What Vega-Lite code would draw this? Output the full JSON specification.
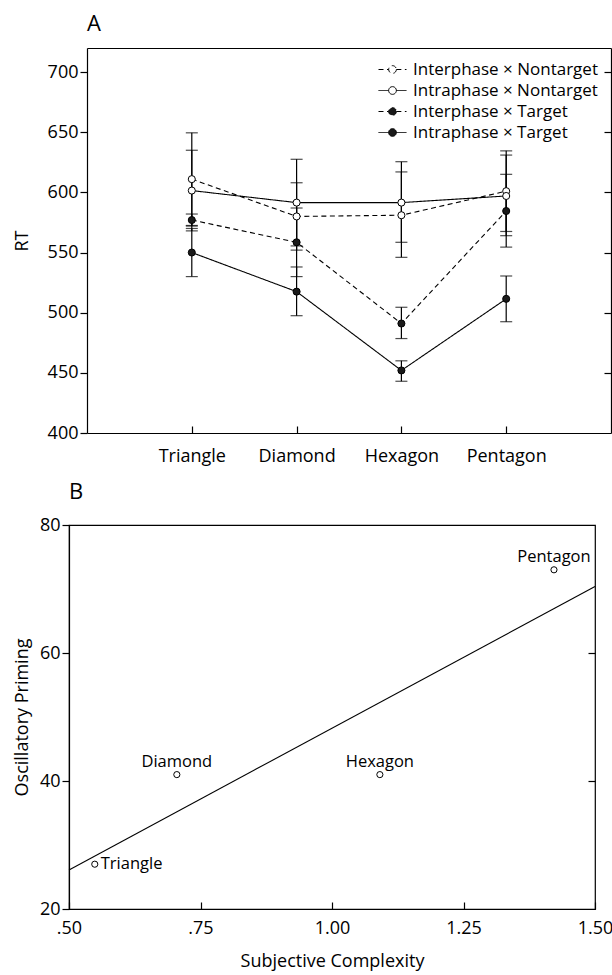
{
  "$schema": "https://vega.github.io/schema/vega-lite/v6.json",
  "padding": {"left": 12, "top": 13, "right": 2, "bottom": 2},
  "columns": 1,
  "spacing": 15,
  "resolve": {"legend": {"fill": "independent", "strokeDash": "independent"}},
  "datasets": {
    "rt": [
      {"shape": "Triangle", "series": "Interphase × Nontarget", "rt": 611, "lo": 572.5, "hi": 649.5},
      {"shape": "Triangle", "series": "Intraphase × Nontarget", "rt": 601.5, "lo": 568, "hi": 635},
      {"shape": "Triangle", "series": "Interphase × Target", "rt": 577, "lo": 572, "hi": 582},
      {"shape": "Triangle", "series": "Intraphase × Target", "rt": 550, "lo": 530, "hi": 570},
      {"shape": "Diamond", "series": "Interphase × Nontarget", "rt": 580, "lo": 552, "hi": 608},
      {"shape": "Diamond", "series": "Intraphase × Nontarget", "rt": 591.5, "lo": 555.5, "hi": 627.5},
      {"shape": "Diamond", "series": "Interphase × Target", "rt": 558.5, "lo": 530, "hi": 587},
      {"shape": "Diamond", "series": "Intraphase × Target", "rt": 517.5, "lo": 497.5, "hi": 538},
      {"shape": "Hexagon", "series": "Interphase × Nontarget", "rt": 581, "lo": 546, "hi": 617},
      {"shape": "Hexagon", "series": "Intraphase × Nontarget", "rt": 591.5, "lo": 558.5, "hi": 625.5},
      {"shape": "Hexagon", "series": "Interphase × Target", "rt": 491, "lo": 478.5, "hi": 504.5},
      {"shape": "Hexagon", "series": "Intraphase × Target", "rt": 452, "lo": 443, "hi": 460},
      {"shape": "Pentagon", "series": "Interphase × Nontarget", "rt": 601, "lo": 567.5, "hi": 634.5},
      {"shape": "Pentagon", "series": "Intraphase × Nontarget", "rt": 597, "lo": 564, "hi": 631},
      {"shape": "Pentagon", "series": "Interphase × Target", "rt": 584.5, "lo": 554.5, "hi": 615},
      {"shape": "Pentagon", "series": "Intraphase × Target", "rt": 511.5, "lo": 492.5, "hi": 530.5}
    ],
    "prime": [
      {"shape": "Triangle", "complexity": 0.549, "priming": 27},
      {"shape": "Diamond", "complexity": 0.705, "priming": 41},
      {"shape": "Hexagon", "complexity": 1.091, "priming": 41},
      {"shape": "Pentagon", "complexity": 1.422, "priming": 73}
    ],
    "fit": [
      {"complexity": 0.5, "priming": 26.1},
      {"complexity": 1.5, "priming": 70.4}
    ]
  },
  "concat": [
    {
      "width": 542,
      "height": 385,
      "view": {"stroke": null},
      "title": {"text": "A", "anchor": "start", "frame": "group", "dx": 18, "fontSize": 22, "font": "Open Sans", "fontWeight": "normal", "offset": 12, "color": "black"},
      "data": {"name": "rt"},
      "layer": [
        {
          "mark": {"type": "rule", "color": "black", "strokeWidth": 1.2},
          "encoding": {
            "x": {"field": "shape", "type": "nominal", "sort": ["Triangle", "Diamond", "Hexagon", "Pentagon"],
                  "scale": {"type": "point", "padding": 1, "range": [18, 542]}, "axis": null},
            "y": {"field": "lo", "type": "quantitative", "scale": {"domain": [400, 720], "nice": false, "zero": false},
                  "axis": {"orient": "right", "title": null, "labels": false, "values": [450, 500, 550, 600, 650, 700], "tickSize": -7, "domain": true}},
            "y2": {"field": "hi"}
          }
        },
        {
          "mark": {"type": "tick", "color": "black", "size": 12, "thickness": 1.2},
          "encoding": {
            "x": {"field": "shape", "type": "nominal", "sort": ["Triangle", "Diamond", "Hexagon", "Pentagon"], "axis": null},
            "y": {"field": "lo", "type": "quantitative", "axis": null}
          }
        },
        {
          "mark": {"type": "tick", "color": "black", "size": 12, "thickness": 1.2},
          "encoding": {
            "x": {"field": "shape", "type": "nominal", "sort": ["Triangle", "Diamond", "Hexagon", "Pentagon"], "axis": null},
            "y": {"field": "hi", "type": "quantitative", "axis": null}
          }
        },
        {
          "mark": {"type": "line", "color": "black", "strokeWidth": 1.1},
          "encoding": {
            "x": {"field": "shape", "type": "nominal", "sort": ["Triangle", "Diamond", "Hexagon", "Pentagon"],
                  "axis": {"orient": "bottom", "title": null, "labelAngle": 0, "tickSize": -7, "labelPadding": 21, "domain": true}},
            "y": {"field": "rt", "type": "quantitative", "axis": null},
            "strokeDash": {"field": "series", "type": "nominal",
              "scale": {"domain": ["Interphase × Nontarget", "Intraphase × Nontarget", "Interphase × Target", "Intraphase × Target"],
                        "range": [[5, 3.5], [1, 0], [5, 3.5], [1, 0]]},
              "legend": {"title": null, "orient": "top-right", "offset": 13,
                "symbolType": "M-2,0H-0.55M0.55,0H2M0.55,0A0.55,0.55,0,1,1,-0.55,0A0.55,0.55,0,1,1,0.55,0Z",
                "symbolSize": 196, "symbolStrokeColor": "black", "symbolStrokeWidth": 1,
                "labelFont": "Open Sans", "labelFontSize": 17, "labelColor": "black", "labelOffset": 12, "labelLimit": 400, "rowPadding": 3}}
          }
        },
        {
          "mark": {"type": "point", "shape": "circle", "size": 50, "stroke": "black", "strokeWidth": 1, "opacity": 1},
          "encoding": {
            "x": {"field": "shape", "type": "nominal", "sort": ["Triangle", "Diamond", "Hexagon", "Pentagon"],
                  "axis": {"orient": "top", "title": null, "labels": false, "ticks": false, "domain": true}},
            "y": {"field": "rt", "type": "quantitative",
                  "axis": {"orient": "left", "title": "RT", "values": [400, 450, 500, 550, 600, 650, 700], "tickSize": 7, "labelPadding": 2, "titlePadding": 16, "offset": -18, "domain": true}},
            "fill": {"field": "series", "type": "nominal",
              "scale": {"domain": ["Interphase × Nontarget", "Intraphase × Nontarget", "Interphase × Target", "Intraphase × Target"],
                        "range": ["white", "white", "#1a1a1a", "#1a1a1a"]},
              "legend": {"title": null, "orient": "top-right", "offset": 13,
                "symbolType": "M-2,0H-0.55M0.55,0H2M0.55,0A0.55,0.55,0,1,1,-0.55,0A0.55,0.55,0,1,1,0.55,0Z",
                "symbolSize": 196, "symbolStrokeColor": "black", "symbolStrokeWidth": 1,
                "labelFont": "Open Sans", "labelFontSize": 17, "labelColor": "black", "labelOffset": 12, "labelLimit": 400, "rowPadding": 3}}
          }
        }
      ]
    },
    {
      "width": 526,
      "height": 384,
      "title": {"text": "B", "anchor": "start", "frame": "group", "fontSize": 22, "font": "Open Sans", "fontWeight": "normal", "offset": 12, "color": "black"},
      "encoding": {
        "x": {"field": "complexity", "type": "quantitative", "scale": {"domain": [0.5, 1.5], "nice": false, "zero": false},
              "axis": {"title": "Subjective Complexity", "values": [0.5, 0.75, 1, 1.25, 1.5], "tickSize": -7, "labelPadding": 17, "labelFlush": false, "titlePadding": 15,
                       "labelExpr": "datum.value < 1 ? replace(format(datum.value, '.2f'), '0.', '.') : format(datum.value, '.2f')"}}
      },
      "layer": [
        {
          "data": {"name": "fit"},
          "mark": {"type": "line", "color": "black", "strokeWidth": 1.1},
          "encoding": {
            "y": {"field": "priming", "type": "quantitative", "scale": {"domain": [20, 80], "nice": false, "zero": false},
                  "axis": {"orient": "right", "title": null, "labels": false, "values": [40, 60], "tickSize": -7, "domain": false}}
          }
        },
        {
          "data": {"name": "prime"},
          "mark": {"type": "point", "shape": "circle", "size": 38, "stroke": "black", "fill": "white", "filled": false, "strokeWidth": 1, "opacity": 1},
          "encoding": {
            "y": {"field": "priming", "type": "quantitative",
                  "axis": {"orient": "left", "title": "Oscillatory Priming", "values": [20, 40, 60, 80], "tickSize": 7, "labelPadding": 2, "titlePadding": 8}}
          }
        },
        {
          "data": {"name": "prime"},
          "transform": [{"filter": "datum.shape === 'Triangle'"}],
          "mark": {"type": "text", "align": "left", "baseline": "middle", "dx": 6, "font": "Open Sans", "fontSize": 16.5, "color": "black"},
          "encoding": {
            "y": {"field": "priming", "type": "quantitative", "axis": null},
            "text": {"field": "shape"}
          }
        },
        {
          "data": {"name": "prime"},
          "transform": [{"filter": "datum.shape !== 'Triangle'"}],
          "mark": {"type": "text", "align": "center", "baseline": "alphabetic", "dy": -8, "font": "Open Sans", "fontSize": 16.5, "color": "black"},
          "encoding": {
            "y": {"field": "priming", "type": "quantitative", "axis": null},
            "text": {"field": "shape"}
          }
        }
      ]
    }
  ],
  "config": {
    "font": "Open Sans",
    "view": {"stroke": "black", "strokeWidth": 1.2},
    "axis": {"labelFont": "Open Sans", "titleFont": "Open Sans", "labelFontSize": 18, "titleFontSize": 18, "titleFontWeight": "normal",
             "labelColor": "black", "titleColor": "black", "tickColor": "black", "domainColor": "black", "domainWidth": 1.2, "tickWidth": 1.2, "grid": false}
  }
}
